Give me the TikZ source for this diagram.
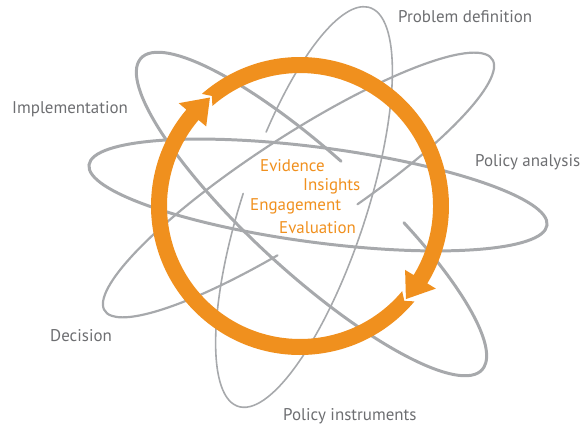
\documentclass[tikz,border=0pt]{standalone}
\usepackage{fontspec}
\setmainfont{PT Sans}
\definecolor{orbitgray}{HTML}{A7A9AC}
\definecolor{stagegray}{HTML}{6D6E71}
\definecolor{cycleorange}{HTML}{F0901E}
\tikzset{
  orbit/.style={draw=orbitgray, line cap=round},
  stage/.style={text=stagegray, inner sep=0pt, anchor=base west, font=\fontsize{17}{20}\selectfont},
  keyword/.style={text=cycleorange, inner sep=0pt, anchor=base west, font=\fontsize{17}{20}\selectfont},
}
% one half of the ring: notched tail after the previous tip (#1), arrow tip at #2
\newcommand{\ringhalf}[2]{%
  \fill[cycleorange] (#1+1.5:149) arc[start angle=#1+1.5, end angle=#2+10, radius=149]
    -- (#2+10:159) -- (#2:141) -- (#2+10:123) -- (#2+10:133)
    arc[start angle=#2+10, end angle=#1+1.5, radius=133] -- (#1-1:141) -- cycle;
}
\begin{document}
\begin{tikzpicture}[x=1bp,y=1bp]
                \useasboundingbox (0,0) rectangle (581,426);
                % orbits, cut open round the words in the middle
                \draw[orbit, line width=1.6, shift={(304,219)}, rotate=71.7] (91.7:210 and 62) arc[start angle=91.7, end angle=433.6, x radius=210, y radius=62];
                \draw[orbit, line width=3, shift={(318,231)}, rotate=-7.5] (0,0) ellipse[x radius=231, y radius=47.5];
                \draw[orbit, line width=2.2, shift={(298.5,241)}, rotate=33] (-80.3:231 and 49) arc[start angle=-80.3, end angle=256, x radius=231, y radius=49];
                \draw[orbit, line width=3, shift={(311.5,212)}, rotate=-42.4] (93.4:231 and 59) arc[start angle=93.4, end angle=431.3, x radius=231, y radius=59];
                % the ring, clockwise
                \begin{scope}[shift={(300,220)}]
                \ringhalf{129.7}{-41.3}
                \ringhalf{-41.3}{-230.3}
                \end{scope}
                % labels
                \node[stage] (probdef) at (398,403) {Problem definition};
                \node[stage] (analysis) at (475,260) {Policy analysis};
                \node[stage] (impl) at (12,313) {Implementation};
                \node[stage] (decision) at (50,85) {Decision};
                \node[stage] (instr) at (283,6) {Policy instruments};
                \node[keyword] (evidence) at (260,255) {Evidence};
                \node[keyword] (insights) at (303,236) {Insights};
                \node[keyword] (engage) at (250,216) {Engagement};
                \node[keyword] (evaluate) at (279,193) {Evaluation};
\end{tikzpicture}
\end{document}
